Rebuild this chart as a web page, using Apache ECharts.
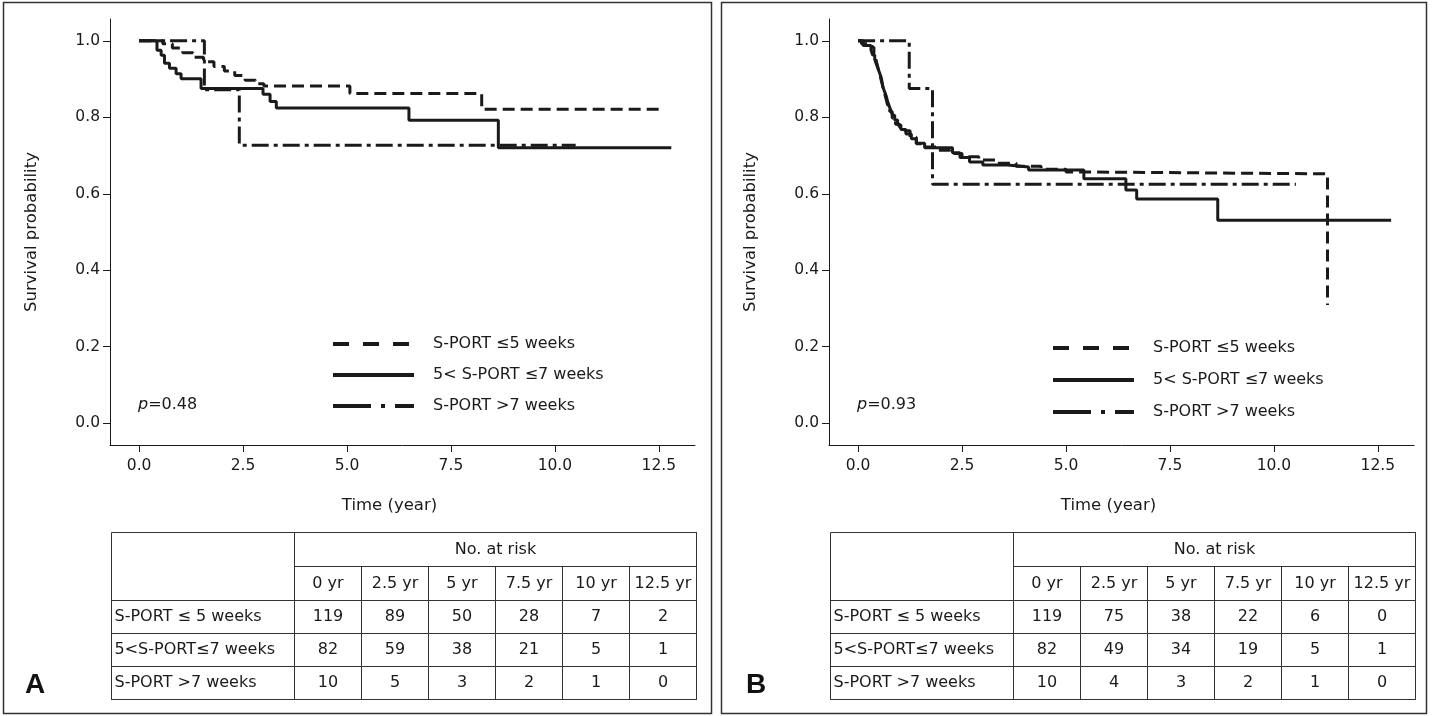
<!DOCTYPE html>
<html>
<head>
<meta charset="utf-8">
<script src="https://cdn.jsdelivr.net/npm/echarts@6/dist/echarts.min.js"></script>
<style>
  html, body { margin: 0; padding: 0; background: #fff; }
  #main { width: 1433px; height: 716px; }
</style>
</head>
<body>
<div id="main"></div>
<script>
// group names (legend) and table row labels
const groupNames = ['S-PORT \u22645 weeks', '5< S-PORT \u22647 weeks', 'S-PORT >7 weeks'];
const tableRowLabels = ['S-PORT \u2264 5 weeks', '5<S-PORT\u22647 weeks', 'S-PORT >7 weeks'];
const riskYears = ['0 yr', '2.5 yr', '5 yr', '7.5 yr', '10 yr', '12.5 yr'];
const xTicks = [0, 2.5, 5, 7.5, 10, 12.5];
const yTicks = [0, 0.2, 0.4, 0.6, 0.8, 1.0];
const pValues = ['0.48', '0.93'];
const panelLetters = ['A', 'B'];

// panel A, Kaplan-Meier steps (time in years, survival)
const aShortTime = [0, 0.57, 0.8, 1.05, 1.3, 1.55, 1.8, 2.05, 2.3, 2.55, 2.8, 3.0, 5.07, 8.24, 12.61];
const aShortSurv = [1, 0.992, 0.981, 0.969, 0.957, 0.945, 0.933, 0.921, 0.909, 0.897, 0.888, 0.882, 0.862, 0.821, 0.821];
const aMidTime = [0, 0.43, 0.53, 0.61, 0.73, 0.89, 1.01, 1.49, 2.98, 3.15, 3.3, 6.49, 8.64, 12.8];
const aMidSurv = [1, 0.975, 0.962, 0.941, 0.928, 0.914, 0.901, 0.875, 0.86, 0.841, 0.824, 0.792, 0.72, 0.72];
const aLongTime = [0, 1.57, 2.41, 10.5];
const aLongSurv = [1, 0.872, 0.727, 0.727];

// panel B
const bShortTime = [0, 0.08, 0.33, 0.38, 0.43, 0.47, 0.51, 0.55, 0.59, 0.63, 0.67, 0.71, 0.76, 0.82, 0.9, 1.0, 1.12, 1.25, 1.4, 1.55, 1.9, 2.2, 2.5, 2.9, 3.3, 3.8, 4.4, 5.0, 5.48, 11.29];
const bShortSurv = [1, 0.992, 0.983, 0.966, 0.95, 0.933, 0.916, 0.899, 0.882, 0.866, 0.849, 0.832, 0.815, 0.798, 0.782, 0.773, 0.765, 0.748, 0.731, 0.722, 0.714, 0.705, 0.697, 0.688, 0.68, 0.672, 0.664, 0.657, 0.652, 0.309];
const bMidTime = [0, 0.12, 0.31, 0.35, 0.4, 0.44, 0.48, 0.52, 0.56, 0.6, 0.64, 0.68, 0.71, 0.75, 0.79, 0.83, 0.88, 0.95, 1.03, 1.15, 1.28, 1.4, 1.6, 2.27, 2.45, 2.68, 3.0, 3.6, 4.1, 5.43, 6.44, 6.7, 8.65, 12.82];
const bMidSurv = [1, 0.988, 0.976, 0.963, 0.951, 0.939, 0.927, 0.915, 0.902, 0.878, 0.866, 0.854, 0.841, 0.829, 0.817, 0.805, 0.793, 0.78, 0.768, 0.756, 0.744, 0.732, 0.72, 0.707, 0.695, 0.683, 0.675, 0.67, 0.662, 0.639, 0.61, 0.586, 0.531, 0.531];
const bLongTime = [0, 1.23, 1.79, 10.53];
const bLongSurv = [1, 0.875, 0.625, 0.625];

// numbers at risk
const aRisk = [[119, 89, 50, 28, 7, 2], [82, 59, 38, 21, 5, 1], [10, 5, 3, 2, 1, 0]];
const bRisk = [[119, 75, 38, 22, 6, 0], [82, 49, 34, 19, 5, 1], [10, 4, 3, 2, 1, 0]];

const FONT = 'DejaVu Sans';
const INK = '#1a1a1a';
const curveDash = [[12, 6], 'solid', [17, 5, 4, 5]];
const legendDash = [[16, 14], 'solid', [38, 10, 4, 10]];

const chart = echarts.init(document.getElementById('main'));

const zip = (t, s) => t.map((v, i) => [v, s[i]]);

const panels = [
  { left: 110, curves: [zip(aShortTime, aShortSurv), zip(aMidTime, aMidSurv), zip(aLongTime, aLongSurv)], risk: aRisk },
  { left: 829, curves: [zip(bShortTime, bShortSurv), zip(bMidTime, bMidSurv), zip(bLongTime, bLongSurv)], risk: bRisk }
];

const grids = [], xAxes = [], yAxes = [], series = [], legends = [], titles = [], matrices = [];

panels.forEach((p, k) => {
  grids.push({ left: p.left, top: 19, width: 585, height: 426 });
  xAxes.push({
    type: 'value', gridIndex: k, min: -0.7, max: 13.37,
    name: 'Time (year)', nameLocation: 'middle', nameGap: 52,
    nameTextStyle: { fontFamily: FONT, fontSize: 16.5, color: INK, padding: [0, 26, 0, 0] },
    axisLine: { onZero: false, lineStyle: { color: INK, width: 1 } },
    axisTick: { length: 7, lineStyle: { color: INK }, customValues: xTicks },
    axisLabel: { customValues: xTicks, formatter: v => v.toFixed(1), margin: 13, fontFamily: FONT, fontSize: 15.5, color: INK },
    splitLine: { show: false }
  });
  yAxes.push({
    type: 'value', gridIndex: k, min: -0.057, max: 1.057,
    name: 'Survival probability', nameLocation: 'middle', nameGap: 70,
    nameTextStyle: { fontFamily: FONT, fontSize: 16.5, color: INK },
    axisLine: { show: true, onZero: false, lineStyle: { color: INK, width: 1 } },
    axisTick: { show: true, length: 7, lineStyle: { color: INK }, customValues: yTicks },
    axisLabel: { customValues: yTicks, formatter: v => v.toFixed(1), margin: 10, fontFamily: FONT, fontSize: 15.5, color: INK },
    splitLine: { show: false }
  });
  p.curves.forEach((d, i) => {
    series.push({
      type: 'line', name: groupNames[i], xAxisIndex: k, yAxisIndex: k,
      step: 'end', symbol: 'none', data: d,
      lineStyle: { color: INK, width: 3, type: curveDash[i] },
      itemStyle: { color: INK },
      z: 3 - i
    });
  });
  legends.push({
    orient: 'vertical', left: k === 0 ? 326 : 1046, top: k === 0 ? 331 : 335,
    itemWidth: 81, itemHeight: 16, itemGap: k === 0 ? 15 : 16, selectedMode: false,
    data: groupNames.map((n, i) => ({
      name: n,
      itemStyle: { opacity: 0 },
      lineStyle: { type: legendDash[i], width: 4, color: INK }
    })),
    textStyle: { fontFamily: FONT, fontSize: 16, color: INK, padding: [0, 0, 0, 14] }
  });
  titles.push({
    text: '{i|p}=' + pValues[k], left: p.left + 23, top: 392,
    textStyle: {
      fontFamily: FONT, fontSize: 16, fontWeight: 'normal', color: INK,
      rich: { i: { fontFamily: FONT, fontSize: 16, fontStyle: 'italic', color: INK } }
    }
  });
  titles.push({
    text: panelLetters[k], left: k === 0 ? 20 : 741, top: 666,
    textStyle: { fontFamily: 'Liberation Sans', fontSize: 28, fontWeight: 'bold', color: '#111' }
  });

  const cell = { borderColor: '#333', borderWidth: 1, color: '#fff' };
  const divider = { color: '#333', width: 1 };
  const cellLabel = { fontFamily: FONT, fontSize: 16, color: INK };
  const body = [];
  p.risk.forEach((row, i) => row.forEach((v, j) => {
    body.push({ coord: [riskYears[j], tableRowLabels[i]], value: String(v) });
  }));
  matrices.push({
    left: p.left + 1, top: 532, width: 585, height: 167,
    x: {
      data: [{ value: 'No. at risk', children: riskYears }],
      levelSize: 34, label: cellLabel, itemStyle: cell, dividerLineStyle: divider
    },
    y: {
      data: tableRowLabels,
      levelSize: 183, label: Object.assign({}, cellLabel, { align: 'left', position: 'insideLeft', padding: [0, 0, 0, 3] }),
      itemStyle: cell, dividerLineStyle: divider
    },
    body: { data: body, label: cellLabel, itemStyle: cell },
    corner: { itemStyle: { borderWidth: 0, color: '#fff' } },
    backgroundStyle: { color: '#fff', borderColor: '#333', borderWidth: 1 }
  });
});

const option = {
  animation: false,
  backgroundColor: '#fff',
  title: titles,
  grid: grids,
  xAxis: xAxes,
  yAxis: yAxes,
  legend: legends,
  matrix: matrices,
  series: series,
  graphic: [
    { type: 'rect', shape: { x: 3.5, y: 2.5, width: 708, height: 711 }, style: { fill: 'none', stroke: '#333', lineWidth: 1.5 }, silent: true },
    { type: 'rect', shape: { x: 721.5, y: 2.5, width: 705, height: 711 }, style: { fill: 'none', stroke: '#333', lineWidth: 1.5 }, silent: true }
  ]
};

chart.setOption(option);
</script>
</body>
</html>
